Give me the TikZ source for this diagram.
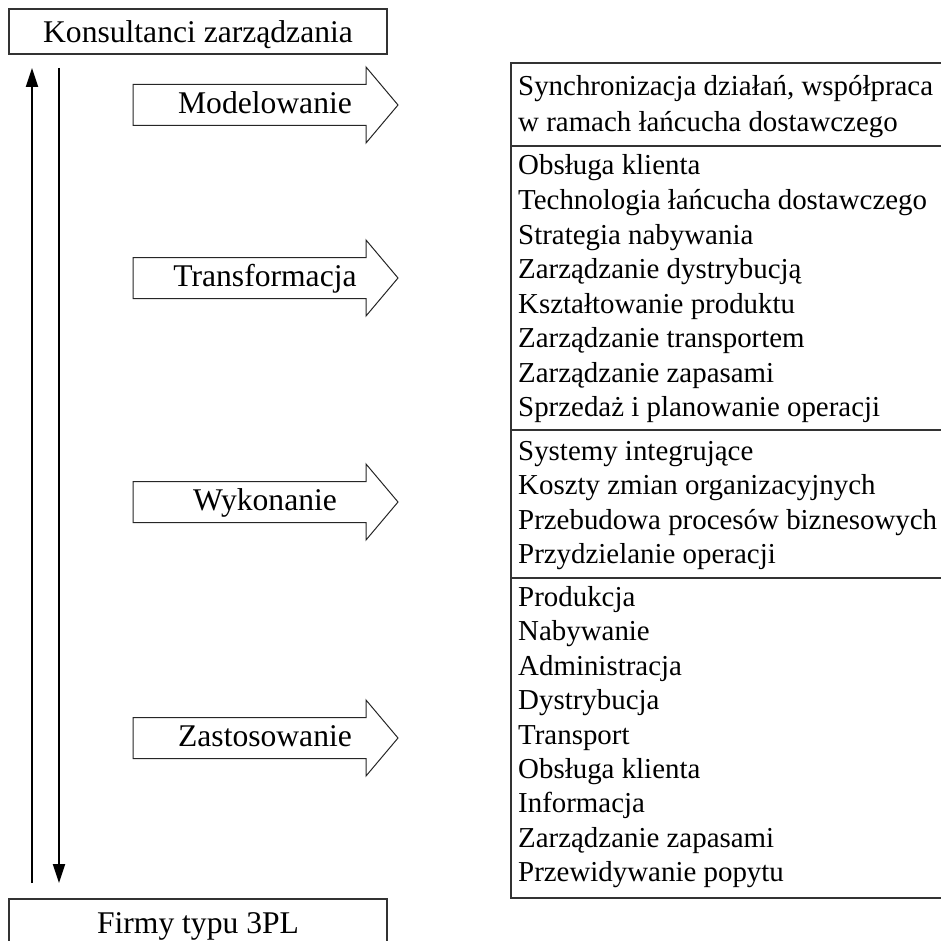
\documentclass[tikz,border=0pt]{standalone}
\usepackage{fontspec}
\setmainfont{Liberation Serif}
\usetikzlibrary{arrows.meta}
\begin{document}
\begin{tikzpicture}[x=1pt,y=-1pt,
  boxline/.style={draw=black!80, line width=1.3pt},
  blockarrow/.style={draw=black!85, line width=1pt, fill=white, line join=miter},
  lbl/.style={font=\fontsize{31.6}{36}\selectfont, inner sep=0pt, anchor=base},
  item/.style={font=\fontsize{28.9}{34}\selectfont, inner sep=0pt, anchor=base west},
  vline/.style={line width=2.2pt, draw=black, -{Triangle[length=19pt,width=12pt]}}]
\useasboundingbox (0,0) rectangle (941,941);
\clip (0,0) rectangle (941,941);

% top box
\node[boxline, minimum width=378pt, minimum height=45pt, inner sep=0pt,
      font=\fontsize{31.6}{36}\selectfont, text height=23pt, text depth=0pt]
  (kons) at (198,31.5) {Konsultanci zarządzania};

% bottom box
\draw[boxline] (9,950) |- (387,899) -- (387,950);
\node[lbl] (firmy) at (198,933) {Firmy typu 3PL};

% vertical arrows
\coordinate (upS) at (32,883);
\coordinate (upE) at (32,68);
\coordinate (dnS) at (59,68);
\coordinate (dnE) at (59,883);
\draw[vline] (upS) -- (upE);
\draw[vline] (dnS) -- (dnE);

% block arrows
\foreach \c/\t/\n in {105/Modelowanie/mod, 278/Transformacja/tra, 502/Wykonanie/wyk, 738/Zastosowanie/zas}{
  \draw[blockarrow] (133,\c-20.5) -- (366,\c-20.5) -- (366,\c-38) -- (398,\c)
     -- (366,\c+38) -- (366,\c+20.5) -- (133,\c+20.5) -- cycle;
  \node[lbl] (\n) at (265,\c+8.5) {\t};
}

% right box
\draw[boxline] (950,63) -| (511,898) -- (950,898);
\draw[boxline] (511,146) -- (950,146);
\draw[boxline] (511,430) -- (950,430);
\draw[boxline] (511,578) -- (950,578);

% group 1
\node[item] (r1) at (518,96) {Synchronizacja działań, współpraca};
\node[item] (r2) at (518,132) {w ramach łańcucha dostawczego};
% group 2
\node[item] (r3) at (518,175) {Obsługa klienta};
\node[item] (r4) at (518,209.5) {Technologia łańcucha dostawczego};
\node[item] (r5) at (518,244) {Strategia nabywania};
\node[item] (r6) at (518,278.5) {Zarządzanie dystrybucją};
\node[item] (r7) at (518,313) {Kształtowanie produktu};
\node[item] (r8) at (518,347.5) {Zarządzanie transportem};
\node[item] (r9) at (518,382) {Zarządzanie zapasami};
\node[item] (r10) at (518,416.5) {Sprzedaż i planowanie operacji};
% group 3
\node[item] (r11) at (518,460) {Systemy integrujące};
\node[item] (r12) at (518,494.5) {Koszty zmian organizacyjnych};
\node[item] (r13) at (518,529) {Przebudowa procesów biznesowych};
\node[item] (r14) at (518,563.5) {Przydzielanie operacji};
% group 4
\node[item] (r15) at (518,606.5) {Produkcja};
\node[item] (r16) at (518,640.9) {Nabywanie};
\node[item] (r17) at (518,675.3) {Administracja};
\node[item] (r18) at (518,709.7) {Dystrybucja};
\node[item] (r19) at (518,744.1) {Transport};
\node[item] (r20) at (518,778.5) {Obsługa klienta};
\node[item] (r21) at (518,812.9) {Informacja};
\node[item] (r22) at (518,847.3) {Zarządzanie zapasami};
\node[item] (r23) at (518,881.7) {Przewidywanie popytu};
\end{tikzpicture}
\end{document}
